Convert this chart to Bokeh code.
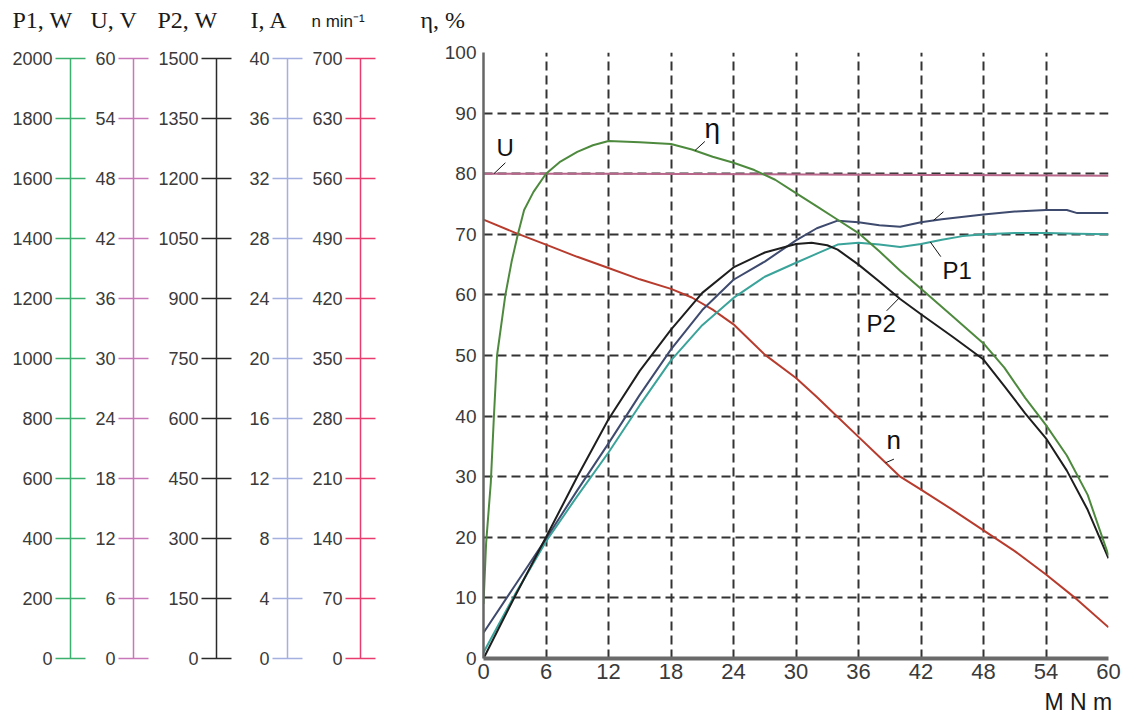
import numpy as np
from bokeh.plotting import figure
from bokeh.models import Range1d, FixedTicker, Label
from bokeh.layouts import row, column
from bokeh.embed import file_html
from bokeh.resources import INLINE

# ---------------- data ----------------
# torque M (N m) positions and values of each characteristic
M_eta = [0, 0.25, 0.7, 1.0, 1.3, 2.1, 2.7, 3.3, 3.9, 4.8, 6, 7.3, 9, 10.5, 12, 15, 18, 20, 22, 24,
         26, 28, 30, 32, 34, 36, 38, 40, 42, 45, 48, 50, 52, 54, 56, 58, 60]
eta_pct = [9, 19, 29, 40, 50, 60, 65.5, 70, 74, 77, 80, 81.9, 83.6, 84.7, 85.4, 85.2, 84.9, 84, 82.8, 81.8,
           80.6, 79, 76.8, 74.6, 72.4, 70.2, 67.2, 64, 61, 56.5, 52, 48, 43, 38.5, 33.5, 27, 17]

M_P1 = [0, 3, 6, 9, 12, 15, 18, 21, 24, 27, 30, 32, 34, 36, 38, 40, 42, 44, 46, 48, 51, 54, 57, 60]
P1_W = [20, 210, 386, 536, 680, 836, 984, 1100, 1190, 1260, 1306, 1336, 1366, 1372, 1366, 1358, 1368,
        1382, 1394, 1400, 1404, 1404, 1402, 1400]

M_P2 = [0, 3, 6, 9, 12, 15, 18, 21, 24, 27, 30, 31.5, 33, 34, 36, 38, 40, 42, 45, 48, 50, 52, 54, 56, 58, 60]
P2_W = [0, 153, 300, 450, 592, 712, 814, 905, 968, 1005, 1026, 1029, 1023, 1012, 975, 933, 890, 852,
        797, 740, 674, 607, 545, 465, 368, 248]

M_I = [0, 3, 6, 9, 12, 15, 18, 21, 24, 27, 30, 32, 34, 36, 38, 40, 42, 44, 48, 51, 54, 56, 57, 60]
I_A = [1.7, 4.8, 7.9, 11.1, 14.2, 17.4, 20.4, 23.0, 25.0, 26.2, 27.6, 28.4, 28.9, 28.8, 28.6, 28.5,
       28.8, 29.0, 29.3, 29.5, 29.6, 29.6, 29.4, 29.4]

M_n = [0, 3, 6, 9, 12, 15, 18, 20, 22, 24, 27, 30, 32, 34, 36, 38, 40, 42, 45, 48, 51, 54, 57, 60]
n_rpm = [507, 492, 478, 464, 451, 438, 427, 417, 403, 386, 351, 324, 302, 279, 256, 233, 210, 195,
         172, 148, 124, 97, 68, 36]

M_U = [0, 12, 36, 60]
U_V = [48.0, 48.0, 47.9, 47.8]

# tick values
x_ticks = [0, 6, 12, 18, 24, 30, 36, 42, 48, 54, 60]
eta_ticks = [0, 10, 20, 30, 40, 50, 60, 70, 80, 90, 100]
P1_ticks = [0, 200, 400, 600, 800, 1000, 1200, 1400, 1600, 1800, 2000]
U_ticks = [0, 6, 12, 18, 24, 30, 36, 42, 48, 54, 60]
P2_ticks = [0, 150, 300, 450, 600, 750, 900, 1050, 1200, 1350, 1500]
I_ticks = [0, 4, 8, 12, 16, 20, 24, 28, 32, 36, 40]
n_ticks = [0, 70, 140, 210, 280, 350, 420, 490, 560, 630, 700]

SANS = "Liberation Sans"
SERIF = "Liberation Serif"
NARROW = "'Liberation Sans Narrow', 'Liberation Sans'"

W = 1129
HEAD_H = 40                   # header strip
FOOT_H = 27                   # footer strip
ROW_H = 715 - HEAD_H - FOOT_H
FT, FB = 52 - HEAD_H, 658 - HEAD_H     # frame top / bottom inside the row
SIDE_TOP = 58.3 - HEAD_H               # pixel of the top tick of the side scales
BASE_SHIFT = 0.4                       # label baseline correction (fraction of font size)


def strip(height, y_top_abs, items):
    f = figure(width=W, height=height, x_range=Range1d(0, W),
               y_range=Range1d(y_top_abs + height, y_top_abs),
               output_backend="svg", toolbar_location=None, min_border=0,
               x_axis_location=None, y_axis_location=None)
    f.outline_line_color = None
    f.grid.visible = False
    for txt, px, py, font, size, align in items:
        f.add_layout(Label(x=px, y=py - BASE_SHIFT * size, text=txt, text_font=font,
                           text_font_size=f"{size}px", text_color="#1a1a1a",
                           text_baseline="alphabetic", text_align=align))
    return f


header = strip(HEAD_H, 0, [
    ("P1, W", 12, 29, SERIF, 24, "left"),
    ("U, V", 90, 29, SERIF, 24, "left"),
    ("P2, W", 157, 29, SERIF, 24, "left"),
    ("I, A", 250, 29, SERIF, 24, "left"),
    ("n  min\u207b\u00b9", 311, 28, SANS, 17, "left"),
    ("η, %", 420, 29, SERIF, 24, "left"),
])
footer = strip(FOOT_H, 715 - FOOT_H, [("M  N m", 1118, 710.5, NARROW, 23, "right")])


def side_fig(x0, x1, axis_px, ymax, ticks, color):
    width = x1 - x0
    left = axis_px - x0
    extra = (SIDE_TOP - FT) * ymax / (FB - SIDE_TOP)
    f = figure(width=width, height=ROW_H, x_range=Range1d(0, width - left), y_range=Range1d(0, ymax + extra),
               output_backend="svg", toolbar_location=None,
               min_border_left=left, min_border_right=0, min_border_top=FT, min_border_bottom=ROW_H - FB,
               x_axis_location=None, y_axis_location="left")
    f.outline_line_color = None
    f.grid.visible = False
    ax = f.yaxis[0]
    ax.bounds = (0, ymax)
    ax.ticker = FixedTicker(ticks=ticks)
    ax.axis_line_color = color
    ax.axis_line_width = 1.5
    ax.major_tick_line_color = color
    ax.major_tick_line_width = 1.5
    ax.major_tick_in = 15
    ax.major_tick_out = 15
    ax.minor_tick_line_color = None
    ax.major_label_standoff = 3
    ax.major_label_text_font = SANS
    ax.major_label_text_font_size = "18px"
    ax.major_label_text_color = "#3a3a3a"
    return f


f_P1 = side_fig(0, 88, 70, 2000, P1_ticks, "#3cb06e")
f_U = side_fig(88, 155, 133, 60, U_ticks, "#c878b8")
f_P2 = side_fig(155, 235, 215, 1500, P2_ticks, "#2a2a2a")
f_I = side_fig(235, 305, 287, 40, I_ticks, "#a4b0e0")
f_n = side_fig(305, 380, 360, 700, n_ticks, "#e83c6e")

# ---------------- main chart ----------------
X0 = 380
FL, FR = 483, 1108
p = figure(width=W - X0, height=ROW_H, x_range=Range1d(0, 60), y_range=Range1d(0, 100),
           output_backend="svg", toolbar_location=None,
           min_border_left=FL - X0, min_border_right=W - FR, min_border_top=FT, min_border_bottom=ROW_H - FB)
p.extra_y_ranges = {"P1": Range1d(0, 2000), "U": Range1d(0, 60), "P2": Range1d(0, 1500),
                    "I": Range1d(0, 40), "n": Range1d(0, 700)}
p.outline_line_color = None

p.xaxis.ticker = FixedTicker(ticks=x_ticks)
p.yaxis.ticker = FixedTicker(ticks=eta_ticks)
for ax in (p.xaxis[0], p.yaxis[0]):
    ax.major_tick_in = 0
    ax.major_tick_out = 0
    ax.minor_tick_line_color = None
    ax.major_label_text_color = "#3a3a3a"
p.yaxis.axis_line_color = "#666666"
p.yaxis.axis_line_width = 2.5
p.xaxis.axis_line_color = "#6a6a6a"
p.xaxis.axis_line_width = 4
p.yaxis.major_label_text_font = SANS
p.yaxis.major_label_text_font_size = "19px"
p.yaxis.major_label_standoff = 7
p.xaxis.major_label_text_font = NARROW
p.xaxis.major_label_text_font_size = "22px"
p.xaxis.major_label_standoff = 5

p.xgrid.ticker = FixedTicker(ticks=x_ticks)
p.ygrid.ticker = FixedTicker(ticks=eta_ticks)
for g in (p.xgrid[0], p.ygrid[0]):
    g.grid_line_color = "#333333"
    g.grid_line_dash = "9 5"
    g.grid_line_width = 2

curves = [
    (M_U, U_V, "U", "#b8668a"),
    (M_n, n_rpm, "n", "#b83c2e"),
    (M_P1, P1_W, "P1", "#3aa39a"),
    (M_I, I_A, "I", "#3e4a6e"),
    (M_P2, P2_W, "P2", "#1e1e1e"),
]
for xs, ys, rng, col in curves:
    p.line(xs, ys, y_range_name=rng, line_color=col, line_width=2)
p.line(M_eta, eta_pct, line_color="#4e8a3e", line_width=2)

ranges = {"U": 60, "n": 700, "P1": 2000, "I": 40, "P2": 1500, "eta": 100}
series = {"U": (M_U, U_V), "n": (M_n, n_rpm), "P1": (M_P1, P1_W), "I": (M_I, I_A),
          "P2": (M_P2, P2_W), "eta": (M_eta, eta_pct)}

# leader lines: (series, x on curve, dx, dy in % of axis)
leaders = [("U", 1.0, 1.1, 1.8), ("eta", 20.3, 0.95, 1.5), ("I", 43.2, 0.95, 1.4),
           ("P1", 42.9, 1.0, -2.4), ("P2", 39.9, -1.2, -2.1), ("n", 38.6, 0.8, 0.6)]
for key, xa, dx, dy in leaders:
    xs, ys = series[key]
    ya = float(np.interp(xa, xs, ys))
    kw = {} if key == "eta" else {"y_range_name": key}
    scale = ranges[key] / 100.0
    p.segment(x0=[xa], y0=[ya], x1=[xa + dx], y1=[ya + dy * scale], line_color="#111111",
              line_width=1, **kw)

PXX = (FR - FL) / 60.0
PXY = (658 - 52) / 100.0


def dx_(px):
    return (px - FL) / PXX


def dy_(py_abs):
    return (658 - py_abs) / PXY


curve_labels = [("U", 496, 157, 24), ("η", 704, 139, 28), ("P1", 942, 280, 24),
                ("P2", 866, 333, 24), ("n", 886, 450, 26)]
for txt, px, py, size in curve_labels:
    p.add_layout(Label(x=dx_(px), y=dy_(py - BASE_SHIFT * size), text=txt, text_font=SANS,
                       text_font_size=f"{size}px", text_color="#111111",
                       text_baseline="alphabetic", text_align="left"))

layout = column(header, row(f_P1, f_U, f_P2, f_I, f_n, p, spacing=0), footer, spacing=0)
open("out.html", "w").write(file_html(layout, INLINE))
